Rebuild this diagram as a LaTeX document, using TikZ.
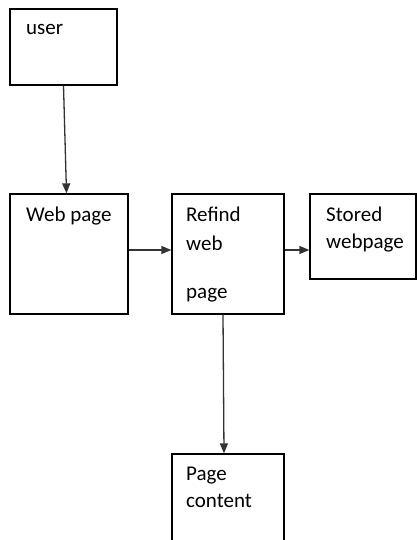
\documentclass[tikz,border=0pt]{standalone}
\usepackage{fontspec}
\setmainfont{Carlito}
\usetikzlibrary{arrows.meta}

\begin{document}
\begin{tikzpicture}
[x=1pt, y=1pt, every node/.style={inner sep=0pt},
 box/.style={rectangle, draw=black, line width=1.3pt},
 lbl/.style={anchor=base west, font=\fontsize{21}{28}\selectfont, text=black},
 flow/.style={line width=1.3pt, color=black!80, -{Triangle[length=10pt, width=8pt]}}]
\useasboundingbox (0,0) rectangle (417,-540);
\clip (0,0) rectangle (417,-540);
\node (user) [box, minimum width=107pt, minimum height=76pt] at (63.5, -47.0) {};
\node (webpage) [box, minimum width=118pt, minimum height=120pt] at (69.0, -254.0) {};
\node (refind) [box, minimum width=112pt, minimum height=120pt] at (228.0, -254.0) {};
\node (stored) [box, minimum width=106pt, minimum height=85pt] at (363.0, -236.5) {};
\node (content) [box, minimum width=112pt, minimum height=120pt] at (228.0, -514.0) {};
\node (t1) [lbl] at (26, -35) {user};
\node (t2) [lbl] at (26, -221) {Web page};
\node (t3) [lbl] at (186, -221) {Refind};
\node (t4) [lbl] at (186, -250) {web};
\node (t5) [lbl] at (186, -298) {page};
\node (t6) [lbl] at (326, -221) {Stored};
\node (t7) [lbl] at (326, -248) {webpage};
\node (t8) [lbl] at (186, -480) {Page};
\node (t9) [lbl] at (186, -507) {content};
\draw [flow] (user.south) to ([xshift=3pt]user.south |- webpage.north);
\draw [flow] ([yshift=4pt]webpage.east) to ([yshift=4pt]webpage.east -| refind.west);
\draw [flow] ([yshift=4pt]refind.east) to ([yshift=4pt]refind.east -| stored.west);
\draw [flow] ([xshift=-5pt]refind.south) to ([xshift=-4pt]refind.south |- content.north);

\end{tikzpicture}
\end{document}
